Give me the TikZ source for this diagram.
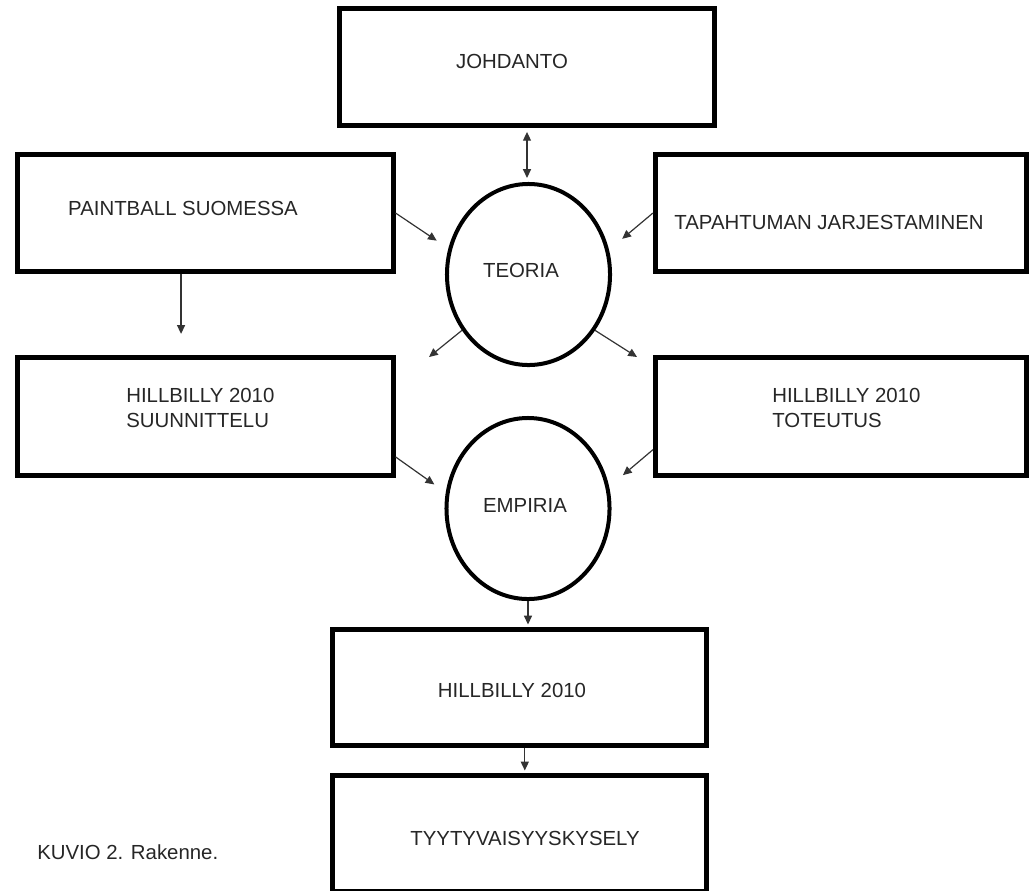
\documentclass[tikz,border=0pt]{standalone}
\usepackage{fontspec}
\setmainfont{Liberation Sans}
\usetikzlibrary{arrows.meta}
\usetikzlibrary{shapes.geometric}

\begin{document}
\begin{tikzpicture}[x=0.025cm, y=-0.025cm,
	hd/.tip={Triangle[length=0.22cm, width=0.2cm]},
	box/.style={draw, line width=0.125cm, minimum width=9.375cm, minimum height=2.9cm, inner sep=0},
	oval/.style={draw, ellipse, line width=0.1cm, minimum width=4.075cm, minimum height=4.525cm, inner sep=0},
	txt/.style={inner sep=0, font=\fontsize{14.5}{17.8}\selectfont, align=left, text=black!85},
	arr/.style={-hd, line width=0.03cm, black!80}]
	\useasboundingbox (0,0) rectangle (1029,890);
	% boxes and ovals
	\node[box] (johdanto) at (527,67) {};
	\node[box] (paint) at (205.5,213) {};
	\node[box, minimum width=9.275cm] (tapahtuma) at (841,213) {};
	\node[box, minimum height=2.925cm] (suunnittelu) at (205.5,416.5) {};
	\node[box, minimum width=9.275cm, minimum height=2.925cm] (toteutus) at (841,416.5) {};
	\node[box, minimum width=9.35cm] (hillbilly) at (519.5,687) {};
	\node[box, minimum width=9.35cm] (kysely) at (519.5,833) {};
	\node[oval] (teoria) at (528.5,274.5) {};
	\node[oval] (empiria) at (528,508.5) {};
	% texts
	\node[txt] (johdanto-t) at (512,61) {JOHDANTO};
	\node[txt] (paint-t) at (183,208) {PAINTBALL SUOMESSA};
	\node[txt] (tapahtuma-t) at (829,222) {TAPAHTUMAN JARJESTAMINEN};
	\node[txt, anchor=west] (suunnittelu-t) at (126,407.5) {HILLBILLY 2010\\SUUNNITTELU};
	\node[txt, anchor=west] (toteutus-t) at (772,407.5) {HILLBILLY 2010\\TOTEUTUS};
	\node[txt] (teoria-t) at (521,270) {TEORIA};
	\node[txt] (empiria-t) at (525,505) {EMPIRIA};
	\node[txt] (hillbilly-t) at (512,690) {HILLBILLY 2010};
	\node[txt] (kysely-t) at (525,838) {TYYTYVAISYYSKYSELY};
	\node[txt, anchor=west] (kuvio) at (37,852) {KUVIO 2. Rakenne.};
	% arrows
	\coordinate (t-sw) at (429,357);
	\coordinate (t-se) at (637,357);
	\draw[arr, hd-hd, shorten <=0.11cm, shorten >=0.1cm] (johdanto.south) -- (johdanto.south |- teoria.north);
	\draw[arr, shorten >=0.35cm] (paint.east) -- (teoria.162);
	\draw[arr, shorten >=0.43cm] (tapahtuma.west) -- (teoria.17);
	\draw[arr] (teoria.220) -- (t-sw);
	\draw[arr] (teoria.-40) -- (t-se);
	\draw[arr, shorten >=0.35cm] (suunnittelu.-12.4) -- (empiria.169);
	\draw[arr, shorten >=0.45cm] (toteutus.190.2) -- (empiria.15);
	\draw[arr, shorten >=0.54cm] (paint.248.6) -- (paint.248.6 |- suunnittelu.north);
	\draw[arr, shorten >=0.05cm] (empiria.south) -- (empiria.south |- hillbilly.north);
	\draw[arr, shorten >=0.05cm] (hillbilly.-85) -- (kysely.85);
\end{tikzpicture}
\end{document}
